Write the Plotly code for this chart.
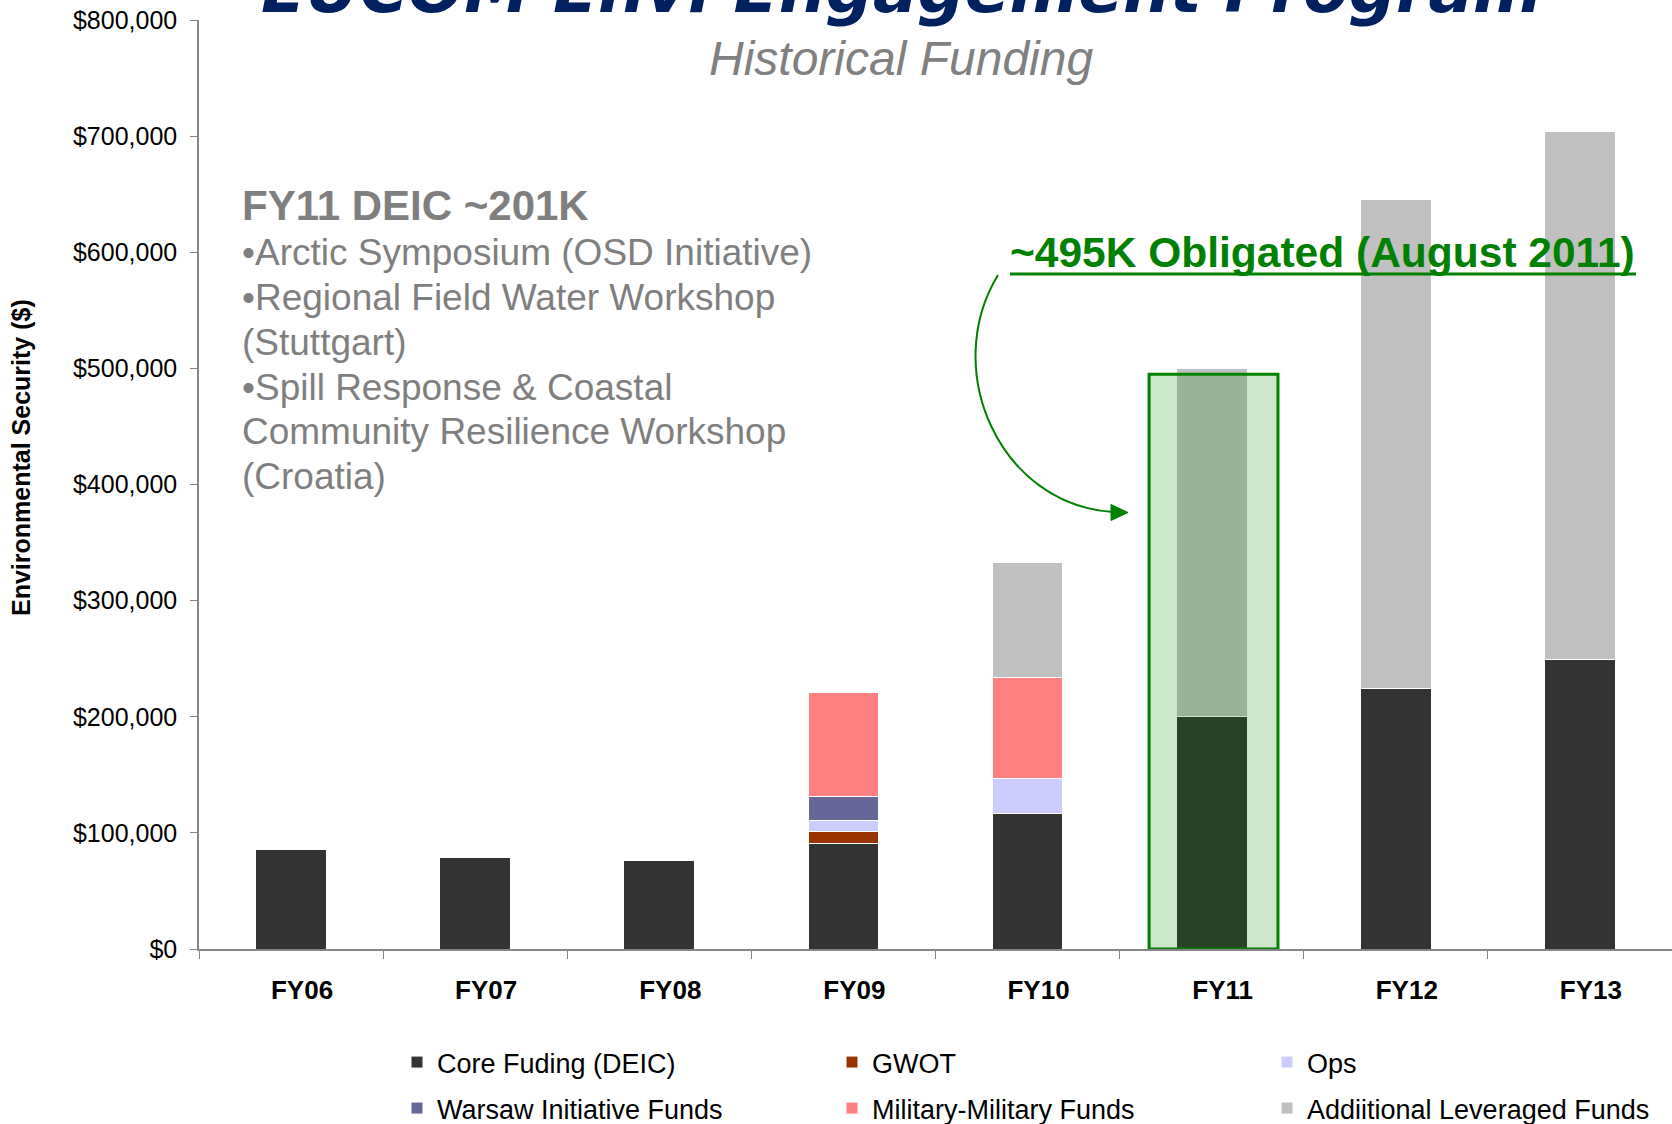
import plotly.graph_objects as go

# ---------------- data ----------------
years = ["FY06", "FY07", "FY08", "FY09", "FY10", "FY11", "FY12", "FY13"]
core_funding = [86000, 79000, 76000, 91000, 117000, 200000, 224000, 249000]
gwot = [None, None, None, 10000, None, None, None, None]
ops = [None, None, None, 10000, 30000, None, None, None]
warsaw_initiative = [None, None, None, 20000, None, None, None, None]
military_military = [None, None, None, 90000, 87000, None, None, None]
additional_leveraged = [None, None, None, None, 99000, 300000, 421000, 455000]
y_ticks = [0, 100000, 200000, 300000, 400000, 500000, 600000, 700000, 800000]
y_tick_labels = ["$0", "$100,000", "$200,000", "$300,000", "$400,000",
                 "$500,000", "$600,000", "$700,000", "$800,000"]
obligated_fy11 = 495000

series_names = ["Core Fuding (DEIC)", "GWOT", "Ops", "Warsaw Initiative Funds",
                "Military-Military Funds", "Addiitional Leveraged Funds"]
series_values = [core_funding, gwot, ops, warsaw_initiative, military_military, additional_leveraged]
series_colors = ["#333333", "#993300", "#CCCCFF", "#666699", "#FF8080", "#C0C0C0"]
series_legend = ["legend", "legend", "legend", "legend2", "legend2", "legend2"]

# ---------------- layout geometry ----------------
W, H = 1672, 1124
ML, MR, MT, MB = 199, 0, 20, 175
PW, PH = W - ML - MR, H - MT - MB
FONT = "Liberation Sans, Arial, sans-serif"


def px2x(px):
    return (px - ML) / PW


def px2y(py):
    return (H - MB - py) / PH


fig = go.Figure()
for name, vals, col, lg in zip(series_names, series_values, series_colors, series_legend):
    fig.add_trace(go.Bar(
        x=years, y=vals, name=name, legend=lg,
        marker=dict(color=col, line=dict(color="white", width=1)),
    ))

annotations = []
# clipped main title (the reference shows only its lower part)
annotations.append(dict(
    text="<b><i>EUCOM Envi Engagement Program</i></b>", xref="paper", yref="paper",
    x=px2x(901), y=px2y(30), xanchor="center", yanchor="bottom", showarrow=False,
    font=dict(family="DejaVu Sans, Verdana, sans-serif", size=66, color="#002060")))
annotations.append(dict(
    text="<i>Historical Funding</i>", xref="paper", yref="paper",
    x=px2x(901), y=px2y(58), xanchor="center", yanchor="middle", showarrow=False,
    font=dict(family=FONT, size=48, color="#808080")))
# side text block
annotations.append(dict(
    text="<b>FY11 DEIC ~201K</b>", xref="paper", yref="paper",
    x=px2x(240), y=px2y(205), xanchor="left", yanchor="middle", showarrow=False,
    font=dict(family=FONT, size=42, color="#7F7F7F")))
body_lines = ["•Arctic Symposium (OSD Initiative)", "•Regional Field Water Workshop", "(Stuttgart)",
              "•Spill Response &amp; Coastal", "Community Resilience Workshop", "(Croatia)"]
body_y = [252.7, 297.5, 342.3, 387.1, 431.9, 476.7]
for t, yy in zip(body_lines, body_y):
    annotations.append(dict(
        text=t, xref="paper", yref="paper", x=px2x(240), y=px2y(yy),
        xanchor="left", yanchor="middle", showarrow=False,
        font=dict(family=FONT, size=37, color="#7F7F7F")))
# obligated text
annotations.append(dict(
    text="<b>~495K Obligated (August 2011)</b>", xref="paper", yref="paper",
    x=px2x(1008), y=px2y(253), xanchor="left", yanchor="middle", showarrow=False,
    font=dict(family=FONT, size=42.5, color="#008000")))
# y-axis title
annotations.append(dict(
    text="<b>Environmental Security ($)</b>", xref="paper", yref="paper",
    x=px2x(21), y=px2y(458), xanchor="center", yanchor="middle", textangle=-90,
    showarrow=False, font=dict(family=FONT, size=25, color="black")))


def pt(x, y):
    return f"{px2x(x):.5f},{px2y(y):.5f}"


shapes = [
    dict(type="rect", xref="x", yref="y", x0=4.66, x1=5.36, y0=0, y1=obligated_fy11,
         fillcolor="rgba(0,128,0,0.2)", line=dict(color="#008000", width=3), layer="above"),
    # underline of the obligated note
    dict(type="line", xref="paper", yref="paper", x0=px2x(1010), x1=px2x(1636),
         y0=px2y(274), y1=px2y(274), line=dict(color="#008000", width=3)),
    # curved arrow
    dict(type="path", xref="paper", yref="paper",
         path=f"M{pt(998,275)} C{pt(940,370)} {pt(1000,505)} {pt(1113,512)}",
         line=dict(color="#008000", width=2)),
    dict(type="path", xref="paper", yref="paper",
         path=f"M{pt(1111,504.5)} L{pt(1128,512.5)} L{pt(1111,520.5)} Z",
         fillcolor="#008000", line=dict(color="#008000", width=1)),
]

legend_common = dict(orientation="h", x=px2x(397), xanchor="left", yanchor="top",
                     entrywidth=390, entrywidthmode="pixels", traceorder="normal",
                     font=dict(family=FONT, size=27, color="black"), bgcolor="rgba(0,0,0,0)")

fig.update_layout(
    width=W, height=H,
    margin=dict(l=ML, r=MR, t=MT, b=MB, autoexpand=False),
    template="none",
    paper_bgcolor="white", plot_bgcolor="white",
    barmode="stack", bargap=0.616,
    font=dict(family=FONT, color="black"),
    showlegend=True,
    legend=dict(y=px2y(1038), **legend_common),
    legend2=dict(y=px2y(1084), **legend_common),
    annotations=annotations,
    shapes=shapes,
    xaxis=dict(type="category", range=[-0.5, 7.5], showgrid=False, zeroline=False,
               showline=True, linecolor="#868686", linewidth=2,
               ticks="outside", tickson="boundaries", ticklen=8, tickcolor="#868686", tickwidth=1,
               tickfont=dict(family=FONT, size=26, color="black", weight="bold"),
               ticklabelstandoff=17, ticklabelshift=11, automargin=False),
    yaxis=dict(range=[0, 800000], tickmode="array", tickvals=y_ticks, ticktext=y_tick_labels,
               showgrid=False, zeroline=False, showline=True, linecolor="#868686", linewidth=1.5,
               ticks="outside", ticklen=7, tickcolor="#868686", tickwidth=1,
               tickfont=dict(family=FONT, size=25, color="black"),
               ticklabelstandoff=8, automargin=False),
)

fig.write_html("out.html", config={"displayModeBar": False})
